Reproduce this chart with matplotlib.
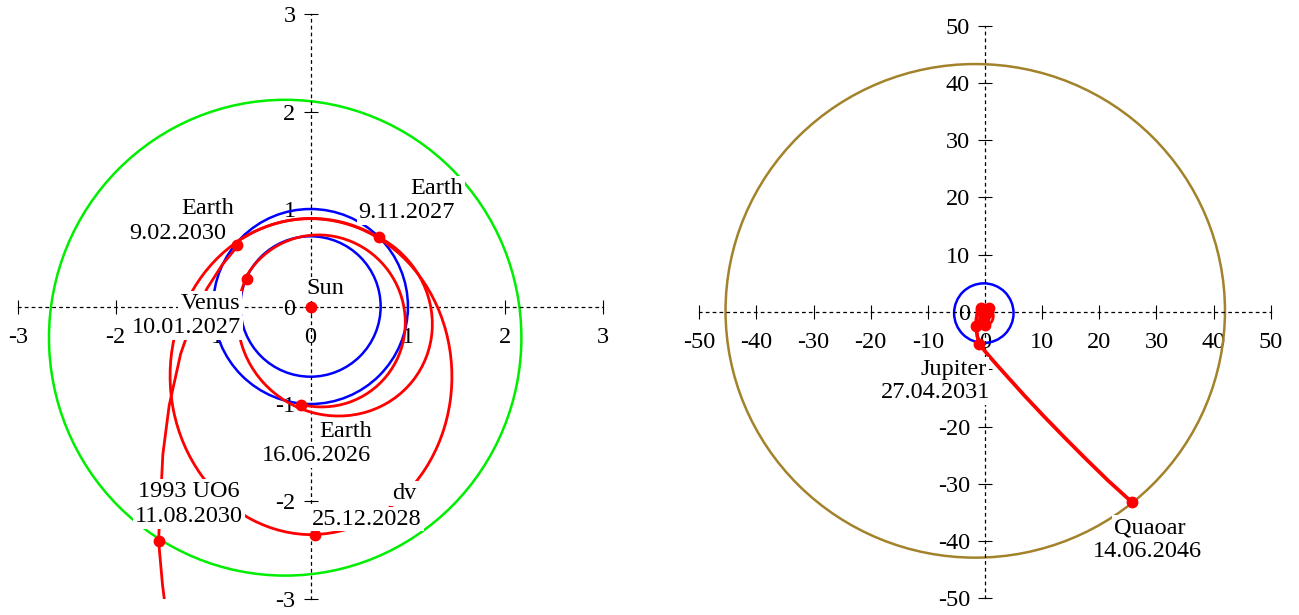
import numpy as np
import matplotlib
matplotlib.use("Agg")
import matplotlib.pyplot as plt
from matplotlib.patches import Arc, Ellipse

plt.rcParams["font.family"] = ["Liberation Serif", "DejaVu Serif"]
plt.rcParams["font.size"] = 17.5
plt.rcParams["axes.unicode_minus"] = False

RED = "#ff0000"
BLUE = "#0000ff"
GREEN = "#00ee00"
BROWN = "#a2822a"

# orbits: centre x, centre y, width, height (AU)
venus_orbit = (0.0, 0.0, 1.44, 1.44)
earth_orbit = (0.0, 0.0, 2.0, 2.0)
uo6_orbit = (-0.26, -0.32, 4.85, 4.88)
jupiter_orbit = (-0.2, -0.2, 10.4, 10.4)
quaoar_orbit = (-1.7, 0.2, 87.4, 86.2)

# elliptic transfer legs: semi-major axis, eccentricity, perihelion direction (deg),
# true anomaly at start / end (deg)
leg_a = [0.8875, 1.010, 1.622, 1.620]
leg_e = [0.200, 0.287, 0.443, 0.444]
leg_w = [123.5, 150.0, 91.0, 90.0]
leg_nu1 = [141.5, 7.0, -46.0, 181.0]
leg_nu2 = [393.5, 255.0, 180.0, 410.0]

escape_x = [-0.745, -0.909, -1.061, -1.201, -1.333, -1.451, -1.516, -1.560,
            -1.52, -1.47, -1.35, -0.96, 0.0, 1.6, 3.75, 7.0, 10.3, 14.0, 17.6, 21.5, 25.7]
escape_y = [0.625, 0.424, 0.187, -0.105, -0.485, -1.016, -1.516, -2.403,
            -2.85, -3.25, -4.2, -5.57, -6.85, -8.7, -11.1, -14.7, -18.2, -22.0, -25.6, -29.4, -33.2]

# encounter points: Sun, Earth, Venus, Earth, dv, Earth, 1993 UO6, Jupiter, Quaoar
event_x = [0.0, -0.094, -0.65, 0.70, 0.05, -0.75, -1.56, -0.96, 25.7]
event_y = [0.0, -1.01, 0.28, 0.71, -2.34, 0.63, -2.41, -5.57, -33.2]

left_texts = ["Sun", "Venus", "10.01.2027", "Earth", "16.06.2026", "Earth", "9.11.2027",
              "Earth", "9.02.2030", "dv", "25.12.2028", "1993 UO6", "11.08.2030"]
left_tx = [0.15, -1.03, -1.27, 0.36, 0.06, 1.30, 0.99, -1.06, -1.36, 0.96, 0.58, -1.25, -1.25]
left_ty = [0.18, 0.03, -0.22, -1.28, -1.53, 1.21, 0.96, 1.01, 0.75, -1.92, -2.18, -1.90, -2.15]

right_texts = ["Jupiter", "27.04.2031", "Quaoar", "14.06.2046"]
right_tx = [-5.46, -8.66, 28.8, 28.4]
right_ty = [-9.97, -14.08, -37.7, -41.8]

left_ticks = [-3, -2, -1, 0, 1, 2, 3]
right_ticks = [-50, -40, -30, -20, -10, 0, 10, 20, 30, 40, 50]


def add_leg(ax, a, e, w, nu1, nu2):
    b = a * np.sqrt(1 - e * e)
    wr = np.radians(w)
    centre = (-a * e * np.cos(wr), -a * e * np.sin(wr))

    def centre_angle(nu):
        nu = np.radians(nu)
        r = a * (1 - e * e) / (1 + e * np.cos(nu))
        return np.degrees(np.arctan2(r * np.sin(nu), r * np.cos(nu) + a * e))

    ax.add_patch(Arc(centre, 2 * a, 2 * b, angle=w, theta1=centre_angle(nu1),
                     theta2=centre_angle(nu2), color=RED, lw=2.0, zorder=3))


def style_axes(ax, lim, ticks):
    ax.set_xlim(-lim, lim)
    ax.set_ylim(-lim, lim)
    for s in ["top", "right"]:
        ax.spines[s].set_visible(False)
    for s in ["left", "bottom"]:
        ax.spines[s].set_position("zero")
        ax.spines[s].set_linestyle((0, (2, 3.5)))
        ax.spines[s].set_linewidth(0.9)
    ax.set_xticks(ticks)
    ax.set_yticks(ticks)
    ax.set_xticklabels([str(t) for t in ticks])
    ax.set_yticklabels([str(t) for t in ticks])
    ax.tick_params(direction="inout", length=9.5, width=0.8)
    ax.tick_params(axis="x", pad=10)
    ax.tick_params(axis="y", pad=6)
    ax.patch.set_visible(False)


def draw(ax, orbits, lw_scale):
    for cx, cy, w, h, c in orbits:
        ax.add_patch(Ellipse((cx, cy), w, h, fill=False, ec=c, lw=1.8, zorder=2))
    for i in range(len(leg_a)):
        add_leg(ax, leg_a[i], leg_e[i], leg_w[i], leg_nu1[i], leg_nu2[i])
    ax.plot(escape_x, escape_y, color=RED, lw=2.0 * lw_scale, zorder=3,
            solid_joinstyle="round")
    ax.plot(event_x, event_y, "o", color=RED, ms=7.5, zorder=4)


box = dict(boxstyle="square,pad=0.08", fc="white", ec="none")

fig = plt.figure(figsize=(12.99, 6.15), dpi=100)

ax1 = fig.add_axes([0.01409, 0.02602, 0.4499, 0.9512])
style_axes(ax1, 3, left_ticks)
draw(ax1, [venus_orbit + (BLUE,), earth_orbit + (BLUE,), uo6_orbit + (GREEN,)], 1.0)
for t, x, y in zip(left_texts, left_tx, left_ty):
    ax1.text(x, y, t, ha="center", va="center", bbox=box, zorder=5)

ax2 = fig.add_axes([0.5383, 0.02715, 0.4399, 0.9311])
style_axes(ax2, 50, right_ticks)
draw(ax2, [jupiter_orbit + (BLUE,), quaoar_orbit + (BROWN,)], 1.35)
for t, x, y in zip(right_texts, right_tx, right_ty):
    ax2.text(x, y, t, ha="center", va="center", bbox=box, zorder=5)

fig.savefig("out.png", dpi=100)
